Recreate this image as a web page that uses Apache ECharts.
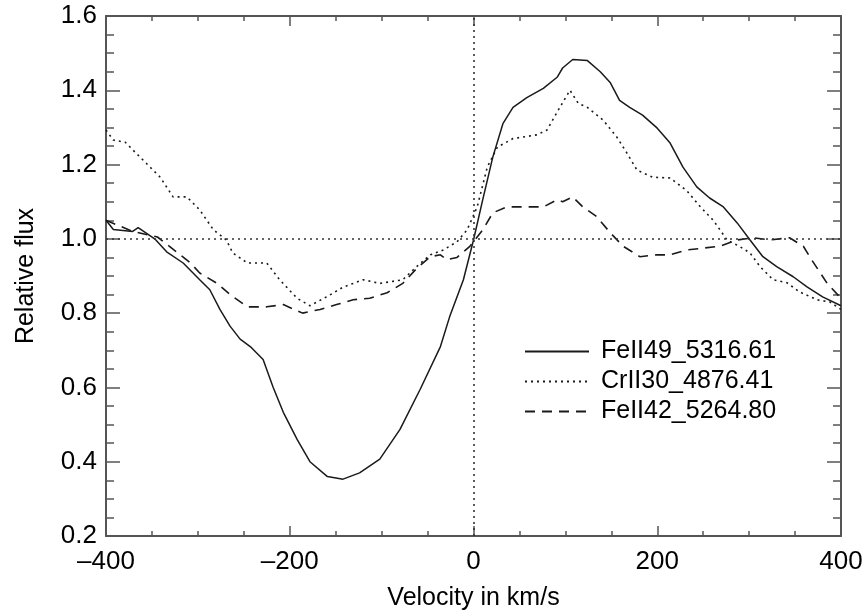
<!DOCTYPE html>
<html>
<head>
<meta charset="utf-8">
<script src="https://cdn.jsdelivr.net/npm/echarts@6/dist/echarts.min.js"></script>
<style>html,body{margin:0;padding:0;background:#fff}#c{width:867px;height:616px}</style>
</head>
<body>
<div id="c"></div>
<script>
// Series names
var seriesNames = ['FeII49_5316.61', 'CrII30_4876.41', 'FeII42_5264.80'];

// FeII49_5316.61 (solid) : velocity (km/s), relative flux
var fe49Vel = [-400,-392,-371,-365,-347,-334,-316,-298,-287,-276,-265,-254,-243,-229,-218,-207,-192,-178,-159,-142,-124,-102,-80,-58,-36,-26,-11,0,10,21,32,43,58,76,91,97,108,124,138,149,159,170,184,200,214,228,243,257,272,287,301,315,330,348,363,380,400];
var fe49Flux = [1.05,1.025,1.02,1.03,1.0,0.965,0.935,0.89,0.863,0.81,0.765,0.73,0.71,0.675,0.60,0.533,0.46,0.40,0.36,0.353,0.37,0.407,0.487,0.595,0.71,0.79,0.89,0.997,1.105,1.22,1.31,1.354,1.38,1.405,1.435,1.46,1.483,1.48,1.45,1.42,1.373,1.354,1.333,1.298,1.258,1.193,1.14,1.11,1.086,1.043,0.997,0.952,0.925,0.898,0.871,0.844,0.82];

// CrII30_4876.41 (dotted)
var cr30Vel = [-400,-392,-379,-371,-352,-341,-327,-312,-298,-283,-269,-262,-246,-225,-211,-192,-178,-159,-142,-120,-102,-77,-62,-47,-33,-18,-7,4,15,26,43,69,80,94,105,114,124,141,156,167,178,195,214,232,247,261,276,290,301,312,326,341,355,374,388,400];
var cr30Flux = [1.293,1.266,1.26,1.24,1.193,1.166,1.113,1.113,1.078,1.024,0.997,0.962,0.935,0.935,0.89,0.84,0.82,0.845,0.87,0.89,0.88,0.89,0.925,0.957,0.97,0.992,1.024,1.086,1.193,1.247,1.27,1.28,1.293,1.354,1.40,1.365,1.354,1.32,1.274,1.231,1.185,1.166,1.164,1.13,1.086,1.05,0.997,0.979,0.962,0.925,0.89,0.882,0.857,0.836,0.83,0.81];

// FeII42_5264.80 (dashed)
var fe42Vel = [-400,-371,-344,-308,-298,-279,-265,-246,-225,-207,-186,-167,-149,-131,-113,-94,-77,-62,-47,-36,-29,-18,-4,10,21,36,58,76,91,97,108,119,134,149,163,181,200,214,232,250,268,287,304,323,344,359,369,385,400];
var fe42Flux = [1.05,1.02,1.005,0.935,0.908,0.88,0.85,0.817,0.817,0.823,0.80,0.81,0.823,0.836,0.84,0.855,0.88,0.92,0.952,0.957,0.944,0.95,0.98,1.024,1.07,1.086,1.086,1.086,1.105,1.10,1.113,1.086,1.06,1.016,0.98,0.952,0.957,0.957,0.97,0.975,0.98,0.997,1.003,0.997,1.003,0.98,0.94,0.88,0.84];

// Axis ticks
var xTicks = [-400, -200, 0, 200, 400];
var yTicks = [0.2, 0.4, 0.6, 0.8, 1.0, 1.2, 1.4, 1.6];
var refFlux = 1.0;
var refVel = 0;

function pairs(xs, ys) { return xs.map(function (x, i) { return [x, ys[i]]; }); }

var FONT = '"Liberation Sans", Arial, Helvetica, sans-serif';
var axisCol = '#555';
var lineCol = '#1a1a1a';

var chart = echarts.init(document.getElementById('c'), null, { renderer: 'canvas' });

function xAxisDef(pos, labels) {
  return {
    type: 'value', position: pos, min: xTicks[0], max: xTicks[xTicks.length - 1], interval: 200,
    axisLine: { show: true, onZero: false, lineStyle: { color: axisCol, width: 2 } },
    axisTick: { show: true, inside: true, length: 10, lineStyle: { color: axisCol, width: 1.5 } },
    minorTick: { show: true, splitNumber: 4, length: 5, lineStyle: { color: axisCol, width: 1.5 } },
    splitLine: { show: false }, minorSplitLine: { show: false },
    axisLabel: labels ? {
      show: true, margin: 13, color: '#000', fontSize: 26, fontFamily: FONT,
      formatter: function (v) { return String(v).replace('-', '\u2013'); }
    } : { show: false },
    name: labels ? 'Velocity in km/s' : '', nameLocation: 'middle', nameGap: 50,
    nameTextStyle: { color: '#000', fontSize: 25, fontFamily: FONT }
  };
}
function yAxisDef(pos, labels) {
  return {
    type: 'value', position: pos, min: yTicks[0], max: yTicks[yTicks.length - 1], interval: 0.2,
    axisLine: { show: true, onZero: false, lineStyle: { color: axisCol, width: 2 } },
    axisTick: { show: true, inside: true, length: 14, lineStyle: { color: axisCol, width: 1.5 } },
    minorTick: { show: true, splitNumber: 4, length: 8, lineStyle: { color: axisCol, width: 1.5 } },
    splitLine: { show: false }, minorSplitLine: { show: false },
    axisLabel: labels ? {
      show: true, margin: 9, color: '#000', fontSize: 26, fontFamily: FONT,
      formatter: function (v) { return v.toFixed(1); }
    } : { show: false },
    name: labels ? 'Relative flux' : '', nameLocation: 'middle', nameGap: 67, nameRotate: 90,
    nameTextStyle: { color: '#000', fontSize: 25, fontFamily: FONT }
  };
}

var option = {
  backgroundColor: '#fff',
  animation: false,
  grid: { left: 106, right: 26, top: 16, bottom: 79, containLabel: false },
  xAxis: [xAxisDef('bottom', true), xAxisDef('top', false)],
  yAxis: [yAxisDef('left', true), yAxisDef('right', false)],
  legend: {
    orient: 'vertical', left: 519, top: 334,
    itemWidth: 64, itemHeight: 14, itemGap: 5,
    data: seriesNames,
    itemStyle: { color: 'rgba(0,0,0,0)', borderWidth: 0, opacity: 0 },
    textStyle: { color: '#000', fontSize: 25, fontFamily: FONT, lineHeight: 25, padding: [0, 0, 0, 7] }
  },
  series: [
    {
      name: seriesNames[0], type: 'line', xAxisIndex: 0, yAxisIndex: 0,
      data: pairs(fe49Vel, fe49Flux), showSymbol: false, symbol: 'none',
      lineStyle: { color: lineCol, width: 1.5, type: 'solid' }, itemStyle: { color: lineCol },
      markLine: {
        silent: true, symbol: 'none', label: { show: false },
        lineStyle: { color: '#333', width: 1.6, type: [2, 4] },
        data: [{ yAxis: refFlux }, { xAxis: refVel }]
      }
    },
    {
      name: seriesNames[1], type: 'line', xAxisIndex: 0, yAxisIndex: 0,
      data: pairs(cr30Vel, cr30Flux), showSymbol: false, symbol: 'none',
      lineStyle: { color: lineCol, width: 1.6, type: [2, 4] }, itemStyle: { color: lineCol }
    },
    {
      name: seriesNames[2], type: 'line', xAxisIndex: 0, yAxisIndex: 0,
      data: pairs(fe42Vel, fe42Flux), showSymbol: false, symbol: 'none',
      lineStyle: { color: lineCol, width: 1.6, type: [10, 7] }, itemStyle: { color: lineCol }
    }
  ]
};
chart.setOption(option);
</script>
</body>
</html>
